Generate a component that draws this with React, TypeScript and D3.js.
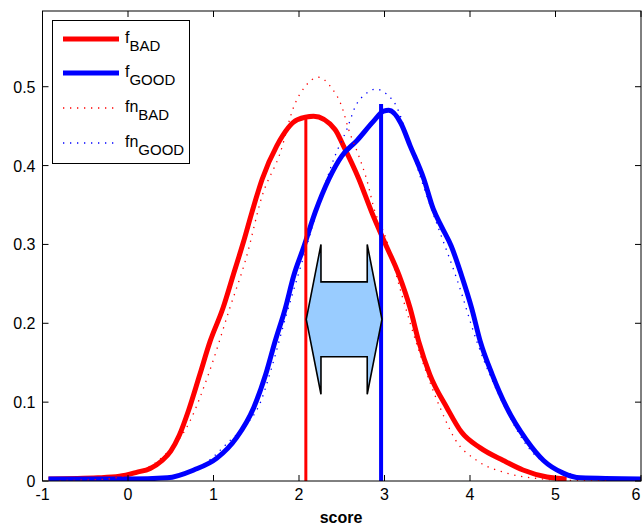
import React from "react";
import * as d3 from "d3";

// ---- data ----
const badX = [-0.93, -0.35, -0.1, 0.1, 0.26, 0.4, 0.5, 0.6, 0.71, 0.84, 0.96, 1.11, 1.23, 1.35, 1.45, 1.57, 1.74, 1.98, 2.17, 2.42, 2.52, 2.7, 2.85, 3.0, 3.17, 3.3, 3.4, 3.53, 3.73, 3.9, 4.12, 4.39, 4.62, 4.9, 5.13];
const badY = [0.0025, 0.004, 0.006, 0.011, 0.016, 0.026, 0.038, 0.058, 0.09, 0.135, 0.177, 0.219, 0.261, 0.303, 0.341, 0.383, 0.425, 0.458, 0.4625, 0.446, 0.425, 0.383, 0.341, 0.303, 0.261, 0.219, 0.177, 0.135, 0.093, 0.062, 0.042, 0.026, 0.014, 0.005, 0.0025];

const goodX = [-0.93, 0.0, 0.46, 0.77, 1.04, 1.27, 1.47, 1.61, 1.72, 1.84, 1.94, 2.05, 2.19, 2.35, 2.5, 2.68, 2.87, 2.99, 3.05, 3.19, 3.3, 3.46, 3.57, 3.67, 3.78, 3.9, 4.02, 4.12, 4.26, 4.43, 4.66, 4.86, 5.09, 5.29, 6.0];
const goodY = [0.0025, 0.0025, 0.004, 0.014, 0.029, 0.055, 0.093, 0.135, 0.177, 0.219, 0.261, 0.295, 0.341, 0.383, 0.412, 0.432, 0.456, 0.469, 0.47, 0.454, 0.425, 0.383, 0.345, 0.322, 0.298, 0.261, 0.219, 0.177, 0.135, 0.093, 0.052, 0.026, 0.01, 0.004, 0.0025];

const nBadX = [-0.8, -0.3, 0.0, 0.4, 0.73, 0.94, 1.19, 1.38, 1.57, 1.78, 1.94, 2.07, 2.23, 2.37, 2.5, 2.58, 2.7, 2.79, 2.89, 3.0, 3.2, 3.4, 3.65, 3.83, 4.08, 4.43, 4.8, 5.2, 5.6];
const nBadY = [0.0005, 0.002, 0.008, 0.03, 0.077, 0.135, 0.219, 0.282, 0.362, 0.416, 0.475, 0.5, 0.512, 0.5, 0.475, 0.446, 0.412, 0.383, 0.341, 0.313, 0.237, 0.166, 0.093, 0.052, 0.026, 0.01, 0.003, 0.0007, 0.0001];

const nGoodX = [-0.8, 0.0, 0.5, 0.9, 1.2, 1.39, 1.55, 1.67, 1.85, 2.05, 2.25, 2.42, 2.56, 2.66, 2.78, 2.9, 3.02, 3.14, 3.24, 3.34, 3.5, 3.65, 3.85, 4.08, 4.41, 4.7, 5.0, 5.3, 5.6];
const nGoodY = [0.0, 0.0007, 0.0055, 0.022, 0.052, 0.072, 0.1, 0.14, 0.21, 0.283, 0.357, 0.412, 0.446, 0.475, 0.491, 0.497, 0.491, 0.475, 0.446, 0.412, 0.36, 0.315, 0.255, 0.177, 0.093, 0.04, 0.016, 0.0055, 0.0017];

// vertical marker lines (red at BAD mode, blue at GOOD mode)
const markerX = [2.08, 2.96];
const markerTop = [0.46, 0.478];

// double-arrow annotation between the markers
const arrowX = [2.085, 2.97];
const arrowMidY = 0.205;
const arrowHeadLen = 0.172;
const arrowHeadHalf = 0.095;
const arrowShaftHalf = 0.0475;

const xTicks = [-1, 0, 1, 2, 3, 4, 5, 6];
const yTicks = [0, 0.1, 0.2, 0.3, 0.4, 0.5];
const legendLabels = [
  { base: "f", sub: "BAD" },
  { base: "f", sub: "GOOD" },
  { base: "fn", sub: "BAD" },
  { base: "fn", sub: "GOOD" },
];

const W = 642;
const H = 527;
const L = 42.5, R = 641, T = 11, B = 481;
const FONT = "'Liberation Sans', Arial, Helvetica, sans-serif";

export default function App() {
  const x = d3.scaleLinear().domain([-1, 6]).range([L, R]);
  const y = d3.scaleLinear().domain([0, 0.596]).range([B, T]);

  const line = d3
    .line<[number, number]>()
    .x((d) => x(d[0]))
    .y((d) => y(d[1]))
    .curve(d3.curveMonotoneX);

  const zip = (xs: number[], ys: number[]) => xs.map((v, i) => [v, ys[i]] as [number, number]);

  const series = [
    { d: zip(badX, badY), color: "#ff0000", width: 5, dash: undefined as string | undefined },
    { d: zip(goodX, goodY), color: "#0000ff", width: 5, dash: undefined },
    { d: zip(nBadX, nBadY), color: "#ff0000", width: 1.3, dash: "1.3 5.7" },
    { d: zip(nGoodX, nGoodY), color: "#0000ff", width: 1.3, dash: "1.3 5.7" },
  ];

  const [ax0, ax1] = arrowX;
  const arrowPts: [number, number][] = [
    [ax0, arrowMidY],
    [ax0 + arrowHeadLen, arrowMidY + arrowHeadHalf],
    [ax0 + arrowHeadLen, arrowMidY + arrowShaftHalf],
    [ax1 - arrowHeadLen, arrowMidY + arrowShaftHalf],
    [ax1 - arrowHeadLen, arrowMidY + arrowHeadHalf],
    [ax1, arrowMidY],
    [ax1 - arrowHeadLen, arrowMidY - arrowHeadHalf],
    [ax1 - arrowHeadLen, arrowMidY - arrowShaftHalf],
    [ax0 + arrowHeadLen, arrowMidY - arrowShaftHalf],
    [ax0 + arrowHeadLen, arrowMidY - arrowHeadHalf],
  ];
  const arrowPath = arrowPts.map((p) => `${x(p[0])},${y(p[1])}`).join(" ");

  const tickLen = 6;
  const legend = { x: 52.5, y: 20.5, w: 137, h: 143 };
  const legendRowY = [39, 73, 108, 143];

  return (
    <div style={{ position: "fixed", left: 0, top: 0, width: W, height: H, background: "#fff" }}>
      <svg width={W} height={H} style={{ display: "block", fontFamily: FONT }}>
        <rect x={0} y={0} width={W} height={H} fill="#fff" />
        <defs>
          <clipPath id="plotclip">
            <rect x={L} y={T} width={R - L} height={B - T} />
          </clipPath>
        </defs>

        <g clipPath="url(#plotclip)">
          {series.map((s, i) => (
            <path
              key={i}
              d={line(s.d) || ""}
              fill="none"
              stroke={s.color}
              strokeWidth={s.width}
              strokeDasharray={s.dash}
              strokeLinejoin="round"
            />
          ))}
          {markerX.map((mx, i) => (
            <line
              key={i}
              x1={x(mx)}
              x2={x(mx)}
              y1={y(0)}
              y2={y(markerTop[i])}
              stroke={i === 0 ? "#ff0000" : "#0000ff"}
              strokeWidth={i === 0 ? 3 : 4}
            />
          ))}
          <polygon points={arrowPath} fill="#99ccff" stroke="#000" strokeWidth={1.6} strokeLinejoin="miter" />
        </g>

        {/* axes box */}
        <rect x={L} y={T} width={R - L} height={B - T} fill="none" stroke="#000" strokeWidth={1} />
        {xTicks.map((t) => (
          <g key={"xt" + t}>
            <line x1={x(t)} x2={x(t)} y1={B} y2={B - tickLen} stroke="#000" />
            <line x1={x(t)} x2={x(t)} y1={T} y2={T + tickLen} stroke="#000" />
            <text x={Math.min(x(t), 636)} y={500} fontSize={16} textAnchor="middle" fill="#000">
              {t}
            </text>
          </g>
        ))}
        {yTicks.map((t) => (
          <g key={"yt" + t}>
            <line x1={L} x2={L + tickLen} y1={y(t)} y2={y(t)} stroke="#000" />
            <line x1={R} x2={R - tickLen} y1={y(t)} y2={y(t)} stroke="#000" />
            <text x={L - 7} y={y(t) + 6} fontSize={16} textAnchor="end" fill="#000">
              {t}
            </text>
          </g>
        ))}
        <text x={341} y={523} fontSize={16} fontWeight="bold" textAnchor="middle" fill="#000">
          score
        </text>

        {/* legend */}
        <rect x={legend.x} y={legend.y} width={legend.w} height={legend.h} fill="#fff" stroke="#000" strokeWidth={1} />
        {legendLabels.map((lab, i) => {
          const s = series[i];
          const ly = legendRowY[i];
          return (
            <g key={"lg" + i}>
              <line x1={63} x2={119} y1={ly} y2={ly} stroke={s.color} strokeWidth={s.width} strokeDasharray={s.dash} />
              <text x={125} y={ly + 4} fontSize={16} fill="#000">
                {lab.base}
                <tspan dy={8} fontSize={15}>
                  {lab.sub}
                </tspan>
              </text>
            </g>
          );
        })}
      </svg>
    </div>
  );
}
